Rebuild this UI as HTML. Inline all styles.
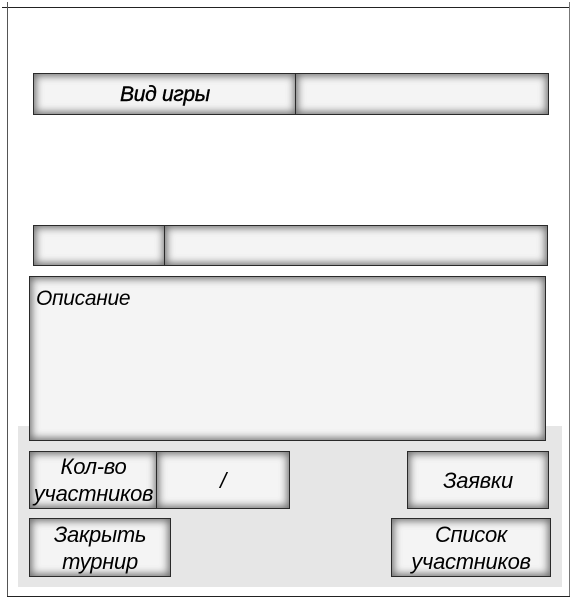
<!DOCTYPE html>
<html><head><meta charset="utf-8"><style>
body{margin:0;width:578px;height:599px;background:#fff;position:relative;overflow:hidden;font-family:"Liberation Sans","DejaVu Sans",sans-serif;}
.a{position:absolute;}
.b{position:absolute;box-sizing:border-box;border:1.5px solid #2a2a2a;background:#f4f4f4;box-shadow:inset 0 0 8px 2px rgba(0,0,0,0.55);font-style:italic;font-size:22px;color:#000;display:flex;align-items:center;justify-content:center;text-align:center;line-height:27px;letter-spacing:-0.3px;}
</style></head><body>
<div class="a" style="left:2px;top:7px;width:568px;height:1px;background:#222"></div>
<div class="a" style="left:7px;top:2px;width:1px;height:595px;background:#555"></div>
<div class="a" style="left:569px;top:2px;width:1px;height:595px;background:#777"></div>
<div class="a" style="left:7px;top:596px;width:563px;height:1px;background:#222"></div>
<div class="a" style="left:18px;top:426px;width:544px;height:161px;background:#e6e6e6"></div>

<div class="b" style="left:33px;top:73px;width:264px;height:42px;font-size:21px;-webkit-text-stroke:0.4px #000;">Вид игры</div>
<div class="b" style="left:295px;top:73px;width:254px;height:42px;"></div>

<div class="b" style="left:33px;top:225px;width:133px;height:41px;"></div>
<div class="b" style="left:164px;top:225px;width:384px;height:41px;"></div>

<div class="b" style="left:29px;top:276px;width:517px;height:165px;align-items:flex-start;justify-content:flex-start;padding:8px 0 0 6px;font-size:21px;">Описание</div>

<div class="b" style="left:29px;top:451px;width:129px;height:58px;">Кол-во<br>участников</div>
<div class="b" style="left:156px;top:451px;width:134px;height:58px;">/</div>
<div class="b" style="left:407px;top:451px;width:142px;height:58px;">Заявки</div>
<div class="b" style="left:29px;top:518px;width:142px;height:59px;">Закрыть<br>турнир</div>
<div class="b" style="left:391px;top:518px;width:160px;height:59px;">Список<br>участников</div>
</body></html>
